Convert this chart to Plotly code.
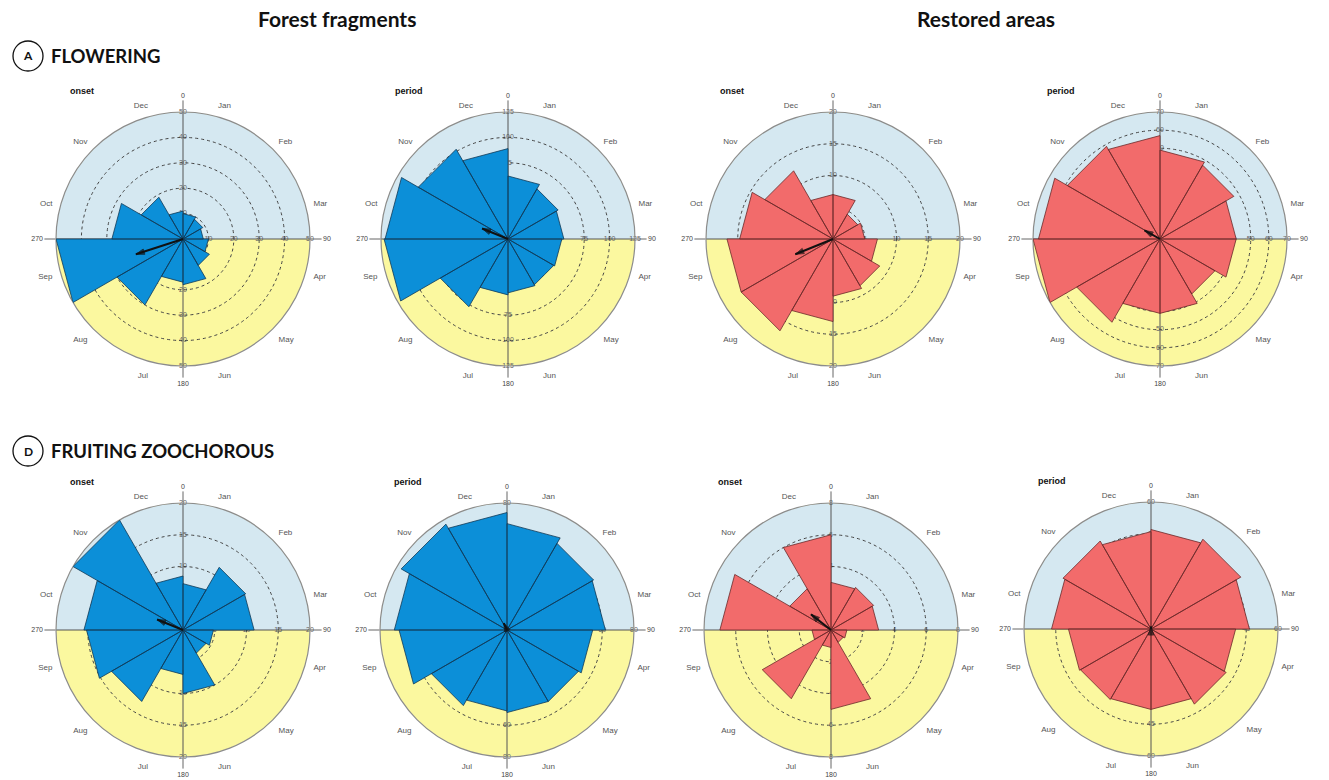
import plotly.graph_objects as go

# ---------------------------------------------------------------- data
MONTHS = ["Jan", "Feb", "Mar", "Apr", "May", "Jun",
          "Jul", "Aug", "Sep", "Oct", "Nov", "Dec"]

# Flowering (A) - number of species per month
flow_forest_onset = [10, 9, 8, 10, 12, 18, 17, 30, 50, 28, 19, 11]
flow_forest_period = [62, 57, 55, 53, 52, 53, 55, 77, 122, 121, 102, 89]
flow_restored_onset = [7, 4.5, 5, 7, 8.5, 9, 13, 16.7, 16.7, 14.7, 12.4, 7]
flow_restored_period = [49, 47, 42, 42, 35, 41, 41, 53, 70, 67, 59, 57]

# Zoochorous fruiting (D)
fruit_forest_onset = [7.3, 11.4, 11.2, 4.8, 4.2, 10, 7, 13, 15.2, 15.6, 20, 8.5]
fruit_forest_period = [67, 63, 62, 54, 52, 52, 51, 55, 68, 71, 77, 74]
fruit_restored_onset = [3, 3.1, 3, 1, 0.9, 5, 1.1, 5, 1.2, 7, 3, 6]
fruit_restored_period = [47, 49, 46.5, 40, 41, 38, 38, 38.5, 39, 47, 48, 46]

series = [flow_forest_onset, flow_forest_period,
          flow_restored_onset, flow_restored_period,
          fruit_forest_onset, fruit_forest_period,
          fruit_restored_onset, fruit_restored_period]
site = ["forest", "forest", "restored", "restored",
        "forest", "forest", "restored", "restored"]
phase = ["onset", "period", "onset", "period",
         "onset", "period", "onset", "period"]

# radial scale (outer ring) and ring spacing of each rose
scale_max = [50, 125, 20, 70, 20, 80, 8, 60]
scale_step = [10, 25, 5, 10, 5, 20, 2, 15]

# mean vector: angle (deg, clockwise from 1 Jan) and length r (0-1)
mean_angle = [252, 292, 248, 299, 292, 335, 308, 0]
mean_r = [0.39, 0.22, 0.32, 0.14, 0.22, 0.06, 0.20, 0.02]

DEGREE_TICKS = [0, 90, 180, 270]

# ---------------------------------------------------------------- layout
W, H = 1329, 780
R = 127
centers = [(183, 239), (508, 239), (833, 239), (1160, 239),
           (183, 630), (507, 630), (831, 630), (1151, 629)]

FILL = {"forest": "#0c8fd8", "restored": "#f26b6b"}
EDGE = {"forest": "#123a57", "restored": "#6a2a2a"}
WET_BG = "#d5e8f1"
DRY_BG = "#fbf89f"
LABEL_FONT = "Liberation Sans"
TITLE_FONT = "Lato"

fig = go.Figure()
polars = {}
n_polar = 0


def new_polar(dom, **kw):
    global n_polar
    n_polar += 1
    name = "polar" if n_polar == 1 else f"polar{n_polar}"
    polars[name] = dict(domain=dom, **kw)
    return name


for i, vals in enumerate(series):
    cx, cy = centers[i]
    dom = dict(x=[(cx - R) / W, (cx + R) / W],
               y=[1 - (cy + R) / H, 1 - (cy - R) / H])
    top = scale_max[i]
    rings = [scale_step[i] * k for k in range(1, int(round(top / scale_step[i])) + 1)]
    ring_txt = [str(v) for v in rings]

    # --- base layer: dry/wet season background, month names, ring values
    base = new_polar(
        dom, bgcolor=DRY_BG,
        angularaxis=dict(rotation=90, direction="clockwise",
                         tickvals=[30 * m + 15 for m in range(12)], ticktext=MONTHS,
                         ticks="outside", ticklen=6, tickcolor="rgba(0,0,0,0)",
                         showgrid=False, showline=False,
                         tickfont=dict(family=LABEL_FONT, size=8, color="#555")),
        radialaxis=dict(range=[0, top], showgrid=False, showline=False,
                        showticklabels=False, ticks=""))
    fig.add_trace(go.Barpolar(r=[top], theta=[0], width=[180], base=0,
                              marker=dict(color=WET_BG, line=dict(width=0)),
                              hoverinfo="skip", showlegend=False, subplot=base))
    fig.add_trace(go.Scatterpolar(
        r=rings * 3, theta=[0] * len(rings) + [90] * len(rings) + [180] * len(rings),
        text=ring_txt * 3, mode="text",
        textfont=dict(family=LABEL_FONT, size=7, color="#666"),
        hoverinfo="skip", showlegend=False, subplot=base))

    # --- grid layer: dotted rings, the 0/90/180/270 cross and its degrees
    grid = new_polar(
        dom, bgcolor="rgba(0,0,0,0)",
        angularaxis=dict(rotation=90, direction="clockwise",
                         tickvals=DEGREE_TICKS, ticktext=[str(d) for d in DEGREE_TICKS],
                         ticks="outside", ticklen=11, tickcolor="#666", tickwidth=1,
                         tickfont=dict(family=LABEL_FONT, size=7, color="#444"),
                         showgrid=True, gridcolor="#555", gridwidth=1,
                         showline=True, linecolor="#8c8c8c", linewidth=1.2),
        radialaxis=dict(range=[0, top], tickvals=rings, showticklabels=False,
                        ticks="", showline=False, showgrid=True,
                        gridcolor="#444", gridwidth=0.8, griddash="dot"))
    fig.add_trace(go.Scatterpolar(r=[0], theta=[0], mode="markers",
                                  marker=dict(opacity=0), hoverinfo="skip",
                                  showlegend=False, subplot=grid))

    # --- data layer: monthly wedges and the mean vector
    data = new_polar(
        dom, bgcolor="rgba(0,0,0,0)",
        angularaxis=dict(rotation=90, direction="clockwise", visible=False),
        radialaxis=dict(range=[0, top], visible=False))
    rr, tt = [], []
    for m, v in enumerate(vals):
        rr += [0, v, v, 0, None]
        tt += [30 * m, 30 * m, 30 * m + 30, 30 * m, None]
    fig.add_trace(go.Scatterpolar(
        r=rr, theta=tt, mode="lines", fill="toself",
        fillcolor=FILL[site[i]], line=dict(color=EDGE[site[i]], width=0.8),
        hoverinfo="skip", showlegend=False, subplot=data))
    tip = mean_r[i] * top
    fig.add_trace(go.Scatterpolar(
        r=[0, tip], theta=[mean_angle[i], mean_angle[i]], mode="lines+markers",
        line=dict(color="#111", width=2),
        marker=dict(symbol="arrow", size=[0, 9], angle=[0, mean_angle[i]],
                    color="#111", line=dict(color="#111", width=1)),
        hoverinfo="skip", showlegend=False, subplot=data))

fig.update_layout(**polars)

# ---------------------------------------------------------------- text
ann = []


def px(x, y):
    return x / W, 1 - y / H


for (x, y, txt) in [(337, 18, "Forest fragments"), (986, 18, "Restored areas")]:
    ax_, ay_ = px(x, y)
    ann.append(dict(x=ax_, y=ay_, xref="paper", yref="paper", text=f"<b>{txt}</b>",
                    showarrow=False, xanchor="center", yanchor="middle",
                    font=dict(family=TITLE_FONT, size=21, color="#111")))

shapes = []
for (y, letter, txt) in [(56, "A", "FLOWERING"), (451, "D", "FRUITING ZOOCHOROUS")]:
    x0, y0 = px(13, y - 15)
    x1, y1 = px(43, y + 15)
    shapes.append(dict(type="circle", xref="paper", yref="paper",
                       x0=x0, x1=x1, y0=y1, y1=y0,
                       line=dict(color="#111", width=1.3)))
    lx, ly = px(28, y)
    ann.append(dict(x=lx, y=ly, xref="paper", yref="paper", text=f"<b>{letter}</b>",
                    showarrow=False, xanchor="center", yanchor="middle",
                    font=dict(family=TITLE_FONT, size=12, color="#111")))
    tx, ty = px(49, y)
    ann.append(dict(x=tx, y=ty, xref="paper", yref="paper", text=f"<b>{txt}</b>",
                    showarrow=False, xanchor="left", yanchor="middle",
                    font=dict(family=TITLE_FONT, size=18.5, color="#111")))

for i, (cx, cy) in enumerate(centers):
    tx, ty = px(cx - 115, cy - 148)
    ann.append(dict(x=tx, y=ty, xref="paper", yref="paper", text=f"<b>{phase[i]}</b>",
                    showarrow=False, xanchor="left", yanchor="middle",
                    font=dict(family=LABEL_FONT, size=9, color="#111")))

fig.update_layout(width=W, height=H, margin=dict(l=0, r=0, t=0, b=0),
                  paper_bgcolor="white", plot_bgcolor="white",
                  annotations=ann, shapes=shapes, hovermode=False,
                  showlegend=False)

fig.write_html("out.html", config={"displayModeBar": False})
